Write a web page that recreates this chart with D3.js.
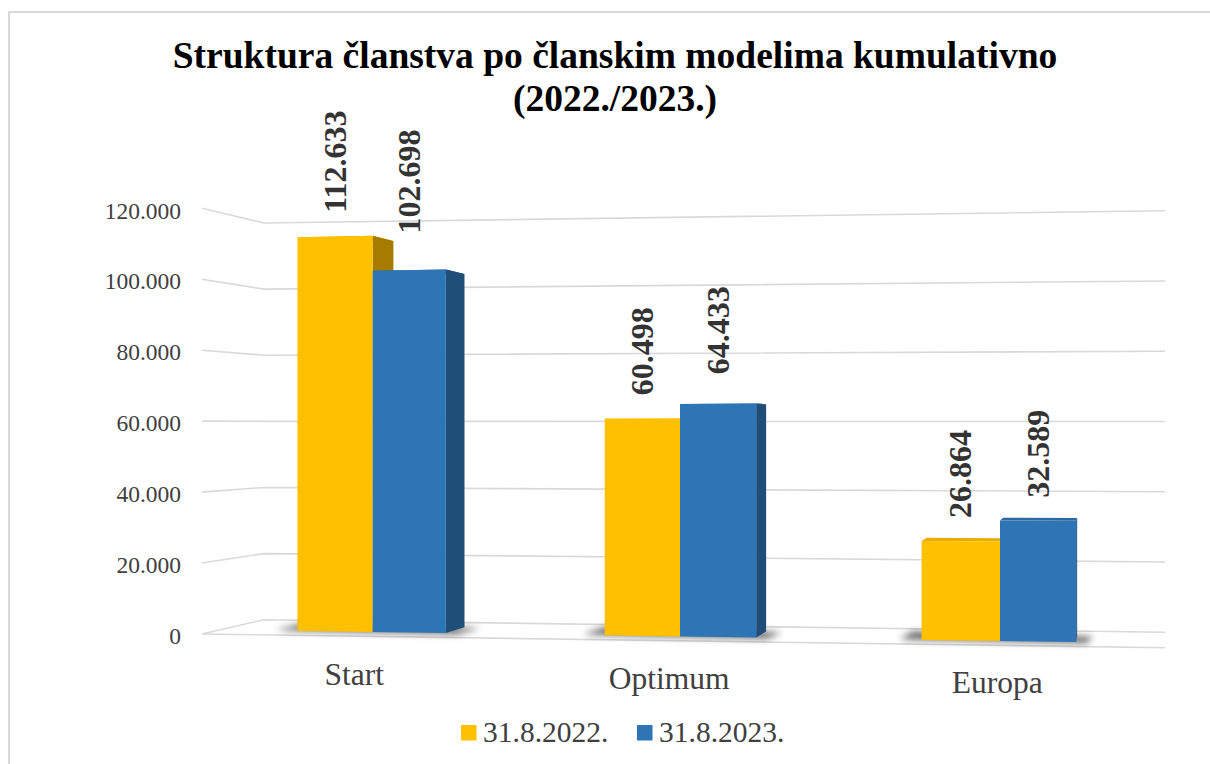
<!DOCTYPE html>
<html>
<head>
<meta charset="utf-8">
<script src="https://cdn.jsdelivr.net/npm/d3@7/dist/d3.min.js"></script>
<style>
  body { margin: 0; background: #fff; }
  svg { display: block; font-family: "Liberation Serif", "Times New Roman", serif; }
</style>
</head>
<body>
<script>
// data
const categories = ["Start", "Optimum", "Europa"];
const seriesNames = ["31.8.2022.", "31.8.2023."];
const values2022 = [112633, 60498, 26864];
const values2023 = [102698, 64433, 32589];
const yTicks = [0, 20000, 40000, 60000, 80000, 100000, 120000];
const titleLines = ["Struktura članstva po članskim modelima kumulativno", "(2022./2023.)"];

const series = [values2022, values2023];
const frontColors = ["#FFC000", "#2E75B6"];
const sideColors = ["#A67C00", "#1F4E79"];
const topColors = ["#E8AD00", "#2A69A3"];

const W = 1210, H = 764;

const hr = d3.formatLocale({decimal: ",", thousands: ".", grouping: [3], currency: ["", ""]});
const fmt = hr.format(",d");

// perspective helpers
const VP = {x: 1112, y: 424};      // vanishing point of depth lines
const kFloor = 0.068;               // full floor depth
const kBar = 0.028;                 // bar depth
function toward(p, k) {
    return [p[0] + k * (VP.x - p[0]), p[1] + k * (VP.y - p[1])];
}

// wall / grid scales
const floorLeftX = 202, wallRightX = 1165;
const yFrontLeft = d3.scaleLinear().domain([0, 120000]).range([634, 208.3]);
const yBackRight = d3.scaleLinear().domain([0, 120000]).range([632.3, 210.7]);
const floorFrontRightY = 647.7;

// bar plane scales
const xFront = d3.scaleLinear().domain([0.5, 1.5, 2.5]).range([372.7, 680, 1000]);
const baseY = d3.scaleLinear().domain([372.7, 1000]).range([632, 641]);
const pxPerUnit = d3.scaleLinear().domain([335, 1040]).range([3.507e-3, 3.713e-3]);
const halfBar = [0.245, 0.238];
function barY(x, v) { return baseY(x) - v * pxPerUnit(x); }

const svg = d3.select("body").append("svg")
    .attr("width", W)
    .attr("height", H);

const defs = svg.append("defs");
defs.append("filter").attr("id", "soft")
    .attr("x", "-50%").attr("y", "-200%").attr("width", "200%").attr("height", "500%")
    .append("feGaussianBlur").attr("stdDeviation", 3.5);

// chart area border
svg.append("rect")
    .attr("x", 9).attr("y", 12)
    .attr("width", W + 20).attr("height", H + 20)
    .attr("fill", "none")
    .attr("stroke", "#D9D9D9")
    .attr("stroke-width", 2);

// title
svg.append("g").selectAll("text")
    .data(titleLines)
    .enter()
    .append("text")
    .attr("x", 615)
    .attr("y", function (d, i) { return 68 + i * 43; })
    .attr("text-anchor", "middle")
    .attr("font-size", 37.5)
    .attr("font-weight", "bold")
    .attr("fill", "#000")
    .text(function (d) { return d; });

// gridlines
let grid = svg.append("g").attr("class", "grid");
grid.selectAll("polyline")
    .data(yTicks)
    .enter()
    .append("polyline")
    .attr("points", function (v) {
        let f = [floorLeftX, yFrontLeft(v)];
        let b = toward(f, kFloor);
        return [f, b, [wallRightX, yBackRight(v)]].map(function (p) { return p.join(","); }).join(" ");
    })
    .attr("fill", "none")
    .attr("stroke", "#D9D9D9")
    .attr("stroke-width", 1.6);

// floor front edge
grid.append("line")
    .attr("x1", floorLeftX).attr("y1", yFrontLeft(0))
    .attr("x2", wallRightX).attr("y2", floorFrontRightY)
    .attr("stroke", "#D9D9D9")
    .attr("stroke-width", 1.6);

// y axis labels
svg.append("g").selectAll("text")
    .data(yTicks)
    .enter()
    .append("text")
    .attr("x", 181)
    .attr("y", function (v) { return yFrontLeft(v) + 2; })
    .attr("dy", "0.35em")
    .attr("text-anchor", "end")
    .attr("font-size", 23.5)
    .attr("fill", "#404040")
    .text(function (v) { return fmt(v); });

// bar geometry
let bars = [];
categories.forEach(function (c, ci) {
    series.forEach(function (vals, si) {
        let x0 = si === 0 ? ci + 0.5 - halfBar[0] : ci + 0.5;
        let x1 = si === 0 ? ci + 0.5 : ci + 0.5 + halfBar[1];
        let xl = xFront(x0), xr = xFront(x1);
        let v = vals[ci];
        let TL = [xl, barY(xl, v)], TR = [xr, barY(xr, v)];
        let BL = [xl, baseY(xl)], BR = [xr, baseY(xr)];
        bars.push({
            si: si, v: v,
            TL: TL, TR: TR, BL: BL, BR: BR,
            TLb: toward(TL, kBar), TRb: toward(TR, kBar),
            BLb: toward(BL, kBar), BRb: toward(BR, kBar)
        });
    });
});

function poly(pts) { return pts.map(function (p) { return p.join(","); }).join(" "); }

// shadows on the floor
let shadows = svg.append("g").attr("class", "shadows");
categories.forEach(function (c, ci) {
    let a = bars[ci * 2], b = bars[ci * 2 + 1];
    shadows.append("polygon")
        .attr("points", poly([
            [a.BL[0] - 22, a.BL[1] - 1],
            [a.BLb[0] - 14, a.BLb[1] - 2],
            [b.BRb[0] + 16, b.BRb[1] + 1],
            [b.BR[0] + 10, b.BR[1] + 1]
        ]))
        .attr("fill", "#000")
        .attr("opacity", 0.65)
        .attr("filter", "url(#soft)");
});

// bars
let barG = svg.append("g").attr("class", "bars");
bars.forEach(function (d) {
    let g = barG.append("g");
    g.append("polygon")
        .attr("points", poly([d.TL, d.TR, d.TRb, d.TLb]))
        .attr("fill", topColors[d.si]);
    g.append("polygon")
        .attr("points", poly([d.TR, d.TRb, d.BRb, d.BR]))
        .attr("fill", sideColors[d.si]);
    g.append("polygon")
        .attr("points", poly([d.TL, d.TR, d.BR, d.BL]))
        .attr("fill", frontColors[d.si]);
});

// data labels
svg.append("g").selectAll("text")
    .data(bars)
    .enter()
    .append("text")
    .attr("transform", function (d) {
        let cx = (d.TL[0] + d.TR[0]) / 2 + 10.5;
        let top = Math.min(d.TL[1], d.TR[1]);
        let side = d.TRb[0] - d.TR[0];
        let gap = d.si === 0 ? 23 : 22 + 0.75 * side;
        return "translate(" + cx + "," + (top - gap) + ") rotate(-90)";
    })
    .attr("font-size", 32)
    .attr("font-weight", "bold")
    .attr("fill", "#333")
    .text(function (d) { return fmt(d.v); });

// category labels
const labelBase = d3.scaleLinear().domain([355, 997]).range([685, 693]);
svg.append("g").selectAll("text")
    .data(categories)
    .enter()
    .append("text")
    .attr("x", function (d, i) {
        let x = xFront(i + 0.5);
        return x + 0.025 * (x - VP.x);
    })
    .attr("y", function (d, i) {
        let x = xFront(i + 0.5);
        return labelBase(x + 0.025 * (x - VP.x));
    })
    .attr("text-anchor", "middle")
    .attr("font-size", 31.5)
    .attr("fill", "#404040")
    .text(function (d) { return d; });

// legend
let legend = svg.append("g").attr("class", "legend");
let legendX = [461, 637];
seriesNames.forEach(function (name, i) {
    legend.append("rect")
        .attr("x", legendX[i]).attr("y", 725)
        .attr("width", 15.5).attr("height", 15.5)
        .attr("fill", frontColors[i]);
    legend.append("text")
        .attr("x", legendX[i] + 22)
        .attr("y", 741.5)
        .attr("font-size", 29.5)
        .attr("fill", "#404040")
        .text(name);
});
</script>
</body>
</html>
